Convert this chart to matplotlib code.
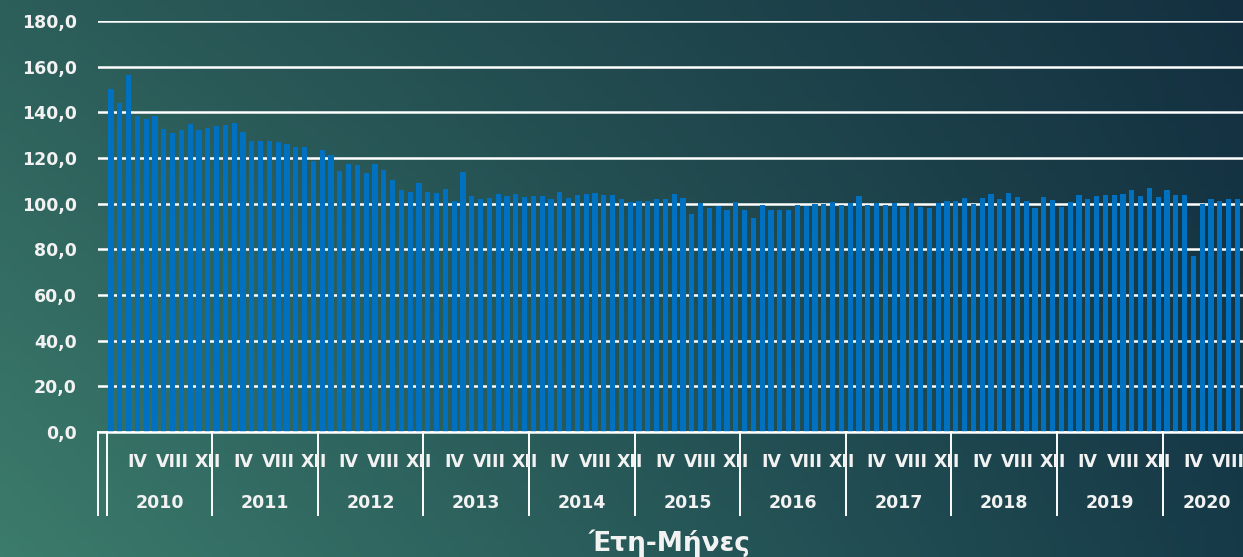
import numpy as np
import matplotlib.pyplot as plt
import matplotlib.transforms as mtransforms

# Monthly index values, Jan 2010 .. Sep 2020
y2010 = [150.0, 144.2, 156.3, 138.6, 137.1, 138.6, 132.8, 131.0, 132.2, 135.1, 132.2, 133.3]
y2011 = [133.8, 134.5, 135.2, 131.6, 127.3, 127.3, 127.6, 126.9, 126.3, 124.9, 124.9, 118.6]
y2012 = [123.7, 121.1, 114.2, 117.4, 116.8, 113.5, 117.5, 114.9, 110.5, 105.8, 105.3, 108.9]
y2013 = [105.3, 104.7, 106.4, 101.3, 113.7, 103.2, 102.2, 102.5, 104.2, 103.4, 104.4, 102.9]
y2014 = [103.4, 103.5, 102.2, 105.0, 102.6, 103.8, 104.2, 104.8, 103.9, 103.8, 102.2, 100.6]
y2015 = [101.3, 101.0, 102.2, 101.9, 104.2, 102.6, 95.6, 100.1, 98.2, 99.1, 97.4, 100.6]
y2016 = [97.4, 93.7, 99.3, 97.2, 97.2, 97.2, 99.3, 98.8, 99.7, 99.9, 100.7, 99.3]
y2017 = [100.1, 103.5, 99.4, 100.1, 99.3, 100.1, 98.7, 100.1, 98.7, 98.2, 100.1, 101.1]
y2018 = [101.3, 102.5, 99.9, 102.5, 104.2, 101.9, 104.5, 103.1, 101.2, 98.2, 102.8, 101.6]
y2019 = [98.7, 100.7, 103.7, 101.9, 103.4, 103.7, 103.7, 104.2, 105.8, 103.4, 106.7, 103.1]
y2020 = [106.1, 103.9, 103.7, 77.2, 100.0, 102.2, 101.3, 102.2, 101.9]

years = ['2010', '2011', '2012', '2013', '2014', '2015', '2016', '2017', '2018', '2019', '2020']
months_in_group = [12, 12, 12, 12, 12, 12, 12, 12, 12, 12, 10]
month_labels = {4: 'IV', 8: 'VIII', 12: 'XII'}
yticks = [0, 20, 40, 60, 80, 100, 120, 140, 160, 180]

values = y2010 + y2011 + y2012 + y2013 + y2014 + y2015 + y2016 + y2017 + y2018 + y2019 + y2020
x = np.arange(len(values))

W, H = 1243, 557
fig = plt.figure(figsize=(W / 100, H / 100), dpi=100)

# background gradient
bg = fig.add_axes([0, 0, 1, 1], zorder=-10)
tl = np.array([44, 94, 90]) / 255
bl = np.array([60, 124, 108]) / 255
tr = np.array([20, 48, 64]) / 255
br = np.array([22, 58, 72]) / 255
u = np.linspace(0, 1, 200)[None, :, None]
v = np.linspace(0, 1, 100)[:, None, None]
img = (1 - v) * ((1 - u) * tl + u * tr) + v * ((1 - u) * bl + u * br)
bg.imshow(img, aspect='auto', extent=[0, 1, 0, 1], origin='upper')
bg.axis('off')

txt = dict(fontsize=12.5, fontweight='bold', color='#f2f2f2', family='DejaVu Sans')

ax = fig.add_axes([97.8 / W, 125 / H, 1152.8 / W, 411 / H])
ax.patch.set_alpha(0)
ax.bar(x, values, width=0.6, color='#0070c0', zorder=3)
ax.set_xlim(-1.5, 129.5)
ax.set_ylim(0, 180)
ax.set_yticks(yticks)
ax.set_yticklabels([f'{t:.1f}'.replace('.', ',') for t in yticks], **txt)
ax.tick_params(axis='y', length=0, pad=15)
ax.set_xticks([])
ax.grid(axis='y', color='white', lw=1.8, zorder=0)
ax.set_axisbelow(True)
for s in ['top', 'right', 'left']:
    ax.spines[s].set_visible(False)
ax.spines['bottom'].set_color('white')
ax.spines['bottom'].set_linewidth(1.8)
ax.spines['bottom'].set_zorder(4)

trans = mtransforms.blended_transform_factory(ax.transData, ax.transAxes)
line_kw = dict(color='white', lw=1.4, transform=trans, clip_on=False)
ax.plot([-1.5, -1.5], [0, -0.202], **line_kw)

start = 0
for yr, n in zip(years, months_in_group):
    ax.plot([start - 0.5, start - 0.5], [0, -0.202], **line_kw)
    for m, lab in month_labels.items():
        if m <= n:
            ax.text(start + m - 1, -0.073, lab, transform=trans, ha='center', va='center', **txt)
    ax.text(start + (n - 1) / 2, -0.173, yr, transform=trans, ha='center', va='center', **txt)
    start += n

fig.text(670 / W, 1 - 543 / H, 'Έτη-Μήνες', ha='center', va='center',
         fontsize=19, fontweight='bold', color='#f2f2f2', family='DejaVu Sans')

fig.savefig('out.png', dpi=100)
